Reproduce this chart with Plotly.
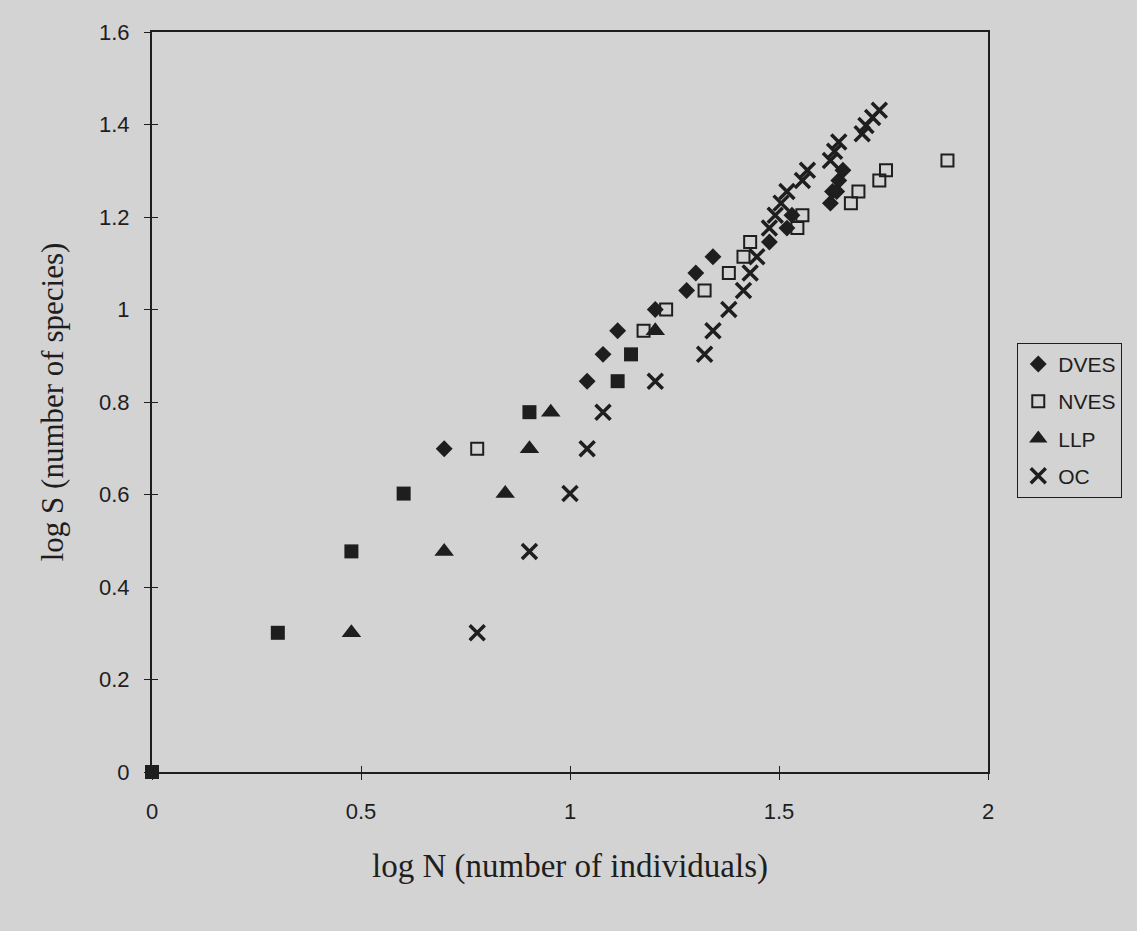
import plotly.graph_objects as go

# log10 values
dves_x = [0.699, 1.041, 1.079, 1.114, 1.204, 1.279, 1.301, 1.342, 1.477, 1.519, 1.531, 1.623, 1.628, 1.638, 1.643, 1.653]
dves_y = [0.699, 0.845, 0.903, 0.954, 1.000, 1.041, 1.079, 1.114, 1.146, 1.176, 1.204, 1.230, 1.255, 1.255, 1.279, 1.301]

nves_x = [0.778, 1.176, 1.230, 1.322, 1.380, 1.415, 1.431, 1.544, 1.556, 1.672, 1.690, 1.740, 1.756, 1.903]
nves_y = [0.699, 0.954, 1.000, 1.041, 1.079, 1.114, 1.146, 1.176, 1.204, 1.230, 1.255, 1.279, 1.301, 1.322]

llp_x = [0.477, 0.699, 0.845, 0.903, 0.954, 1.204]
llp_y = [0.301, 0.477, 0.602, 0.699, 0.778, 0.954]

oc_x = [0.778, 0.903, 1.000, 1.041, 1.079, 1.204, 1.322, 1.342, 1.380, 1.415, 1.431, 1.447,
        1.477, 1.491, 1.505, 1.519, 1.556, 1.568, 1.623, 1.633, 1.643, 1.699, 1.708, 1.724, 1.740]
oc_y = [0.301, 0.477, 0.602, 0.699, 0.778, 0.845, 0.903, 0.954, 1.000, 1.041, 1.079, 1.114,
        1.176, 1.204, 1.230, 1.255, 1.279, 1.301, 1.322, 1.342, 1.362, 1.380, 1.398, 1.415, 1.431]

# points where several series coincide (drawn as solid squares)
shared_x = [0.000, 0.301, 0.477, 0.602, 0.903, 1.114, 1.146]
shared_y = [0.000, 0.301, 0.477, 0.602, 0.778, 0.845, 0.903]

x_ticks = [0, 0.5, 1, 1.5, 2]
x_tick_text = ["0", "0.5", "1", "1.5", "2"]
y_ticks = [0, 0.2, 0.4, 0.6, 0.8, 1.0, 1.2, 1.4, 1.6]
y_tick_text = ["0", "0.2", "0.4", "0.6", "0.8", "1", "1.2", "1.4", "1.6"]

INK = "#1e1e1e"
BG = "#d3d3d3"

fig = go.Figure()
fig.add_trace(go.Scatter(x=shared_x, y=shared_y, mode="markers", showlegend=False,
                         marker=dict(symbol="square", size=14, color=INK, line=dict(width=0)),
                         cliponaxis=False))
fig.add_trace(go.Scatter(x=dves_x, y=dves_y, mode="markers", name="DVES", legendgroup="a",
                         marker=dict(symbol="diamond", size=13, color=INK, line=dict(width=0))))
fig.add_trace(go.Scatter(x=nves_x, y=nves_y, mode="markers", name="NVES", legendgroup="b",
                         marker=dict(symbol="square-open", size=12, color=INK, line=dict(width=2, color=INK))))
fig.add_trace(go.Scatter(x=llp_x, y=llp_y, mode="markers", name="LLP", legendgroup="c",
                         marker=dict(symbol="triangle-up", size=17, color=INK, line=dict(width=0))))
fig.add_trace(go.Scatter(x=oc_x, y=oc_y, mode="markers", name="OC", legendgroup="d",
                         marker=dict(symbol="x-thin", size=15, color=INK, line=dict(width=3.5, color=INK))))
# empty helper trace so the overlay axes (inner tick halves) are drawn
fig.add_trace(go.Scatter(x=[], y=[], xaxis="x2", yaxis="y2", showlegend=False, hoverinfo="skip"))

axis_common = dict(showgrid=False, zeroline=False, showline=True, linecolor=INK, linewidth=2,
                   ticks="outside", ticklen=6, tickwidth=1, tickcolor=INK, mirror=True,
                   tickfont=dict(family="Liberation Sans, Arial", size=22, color=INK))

fig.update_layout(
    width=1137, height=931,
    margin=dict(l=152, r=149, t=32, b=159),
    paper_bgcolor=BG, plot_bgcolor=BG,
    xaxis=dict(range=[0, 2], tickvals=x_ticks, ticktext=x_tick_text, ticklabelstandoff=13,
               title=dict(text="log N (number of individuals)", standoff=30,
                          font=dict(family="Liberation Serif, Times New Roman", size=33, color=INK)),
               **axis_common),
    yaxis=dict(range=[0, 1.6], tickvals=y_ticks, ticktext=y_tick_text, ticklabelstandoff=10,
               title=dict(text="log S (number of species)", standoff=26,
                          font=dict(family="Liberation Serif, Times New Roman", size=31, color=INK)),
               **axis_common),
    xaxis2=dict(overlaying="x", range=[0, 2], tickvals=x_ticks, showticklabels=False, ticks="inside",
                ticklen=6, tickwidth=1, tickcolor=INK, showgrid=False, zeroline=False, showline=False,
                side="bottom"),
    yaxis2=dict(overlaying="y", range=[0, 1.6], tickvals=y_ticks, showticklabels=False, ticks="inside",
                ticklen=6, tickwidth=1, tickcolor=INK, showgrid=False, zeroline=False, showline=False,
                side="left"),
    legend=dict(x=1.035, y=0.58, xanchor="left", yanchor="top",
                bgcolor=BG, bordercolor=INK, borderwidth=1,
                font=dict(family="Liberation Sans, Arial", size=21, color=INK),
                tracegroupgap=7),
    showlegend=True,
)

fig.write_html("out.html")
